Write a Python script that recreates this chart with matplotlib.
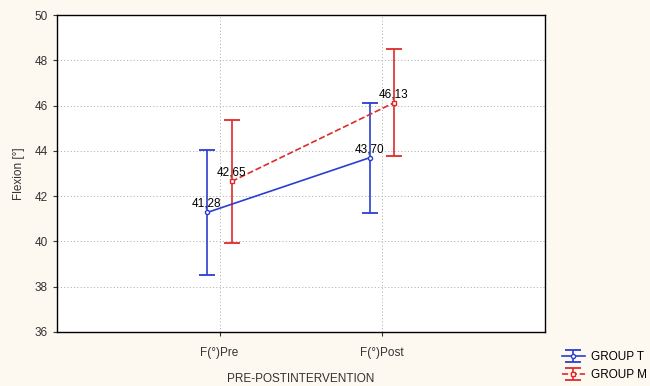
import matplotlib
matplotlib.use('Agg')
import matplotlib.pyplot as plt
import numpy as np

categories = ['F(°)Pre', 'F(°)Post']
group_t_mean = [41.28, 43.70]
group_t_err = [2.78, 2.43]
group_m_mean = [42.65, 46.13]
group_m_err = [2.70, 2.35]
mean_labels_t = ['41,28', '43,70']
mean_labels_m = ['42,65', '46,13']

plt.rcParams['font.family'] = ['Liberation Sans', 'DejaVu Sans']

fig = plt.figure(figsize=(6.5, 3.86), dpi=100, facecolor='#fdf9f1')
ax = fig.add_axes([0.0877, 0.14, 0.75, 0.821])
ax.set_facecolor('white')

x = np.arange(len(categories))
blue = '#2a3fd0'
red = '#e02a2a'

ax.errorbar(x - 0.075, group_t_mean, yerr=group_t_err, color=blue, lw=1.2,
            marker='o', ms=3, mfc='white', mec=blue, capsize=6,
            capthick=1.3, label='GROUP T')
ax.errorbar(x + 0.075, group_m_mean, yerr=group_m_err, color=red, lw=1.2,
            ls='--', marker='s', ms=3, mfc='white', mec=red, capsize=6,
            capthick=1.3, label='GROUP M')

for xi, yi, s in zip(x - 0.075, group_t_mean, mean_labels_t):
    ax.annotate(s, (xi, yi), xytext=(-11, 4), textcoords='offset points',
                fontsize=8.5, color='black')
for xi, yi, s in zip(x + 0.075, group_m_mean, mean_labels_m):
    ax.annotate(s, (xi, yi), xytext=(-11, 4), textcoords='offset points',
                fontsize=8.5, color='black')

ax.set_xlim(-1, 2)
ax.set_ylim(36, 50)
ax.set_xticks(x)
ax.set_xticklabels(categories)
ax.set_yticks(np.arange(36, 51, 2))
ax.tick_params(labelsize=8.5, colors='#333333', length=3, direction='out')
ax.tick_params(axis='x', pad=8)
ax.grid(True, ls=(0, (1.2, 2.2)), color='#b5b5b5', lw=0.7)
ax.set_axisbelow(True)
for sp in ax.spines.values():
    sp.set_color('black')
    sp.set_linewidth(1)

ax.set_xlabel('PRE-POSTINTERVENTION', fontsize=8.5, color='#333333', labelpad=10)
ax.set_ylabel('Flexion [°]', fontsize=8.5, color='#333333', labelpad=7)

fig.legend(loc='upper left', bbox_to_anchor=(0.855, 0.105), frameon=False,
           fontsize=8.5, handlelength=2, labelspacing=0.5, borderpad=0,
           handletextpad=0.5)

fig.savefig('out.png', dpi=100, facecolor=fig.get_facecolor())
